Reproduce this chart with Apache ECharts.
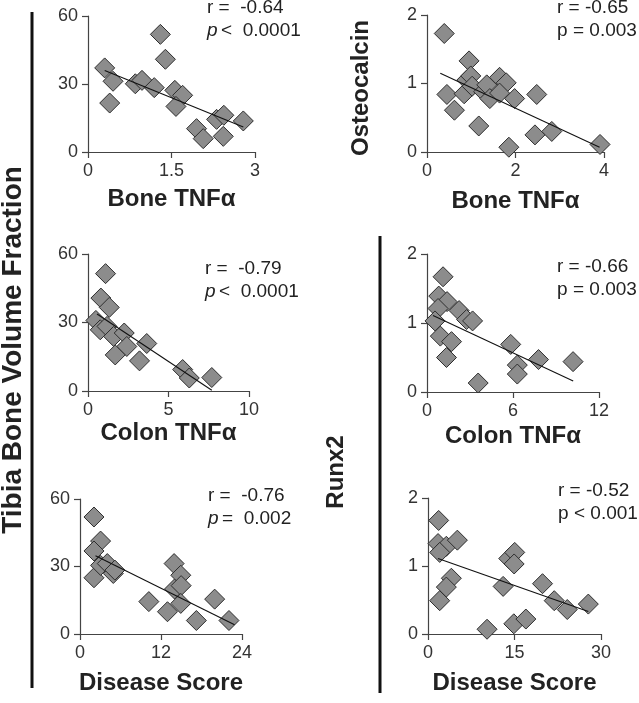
<!DOCTYPE html>
<html><head><meta charset="utf-8">
<script src="https://cdn.jsdelivr.net/npm/echarts@6/dist/echarts.min.js"></script>
<style>html,body{margin:0;padding:0;background:#fff}#c{width:639px;height:703px}</style>
</head><body><div id="c"></div>
<script>
// ---- Data ----
// Panel 1: Tibia BV/TV vs Bone TNFa
const p1X = [0.30,0.45,0.39,0.85,0.97,1.19,1.30,1.39,1.56,1.70,1.58,1.95,2.07,2.31,2.44,2.43,2.79];
const p1Y = [37.1,31.2,21.6,30.1,31.6,28.4,51.9,40.9,27.2,25.0,20.1,10.3,5.9,14.4,16.2,6.9,13.7];
const p1TrendX = [0.30,2.79];
const p1TrendY = [36.0,11.0];
// Panel 2: Osteocalcin vs Bone TNFa
const p2X = [0.39,0.45,0.62,0.95,0.90,0.99,0.84,1.02,1.17,1.28,1.35,1.42,1.64,1.79,1.64,1.98,1.85,2.48,2.44,2.82,3.91];
const p2Y = [1.73,0.84,0.61,1.33,1.05,1.11,0.85,0.96,0.38,0.88,0.98,0.78,1.09,1.01,0.86,0.78,0.07,0.84,0.25,0.30,0.11];
const p2TrendX = [0.30,3.90];
const p2TrendY = [1.15,0.07];
// Panel 3: Tibia BV/TV vs Colon TNFa
const p3X = [1.09,0.80,1.32,0.49,0.76,1.18,1.59,2.25,2.41,1.69,3.20,3.65,5.88,6.29,7.69];
const p3Y = [51.4,40.7,36.6,30.9,26.8,28.3,23.9,25.4,19.5,15.8,13.2,20.8,9.4,5.7,5.9];
const p3TrendX = [0.56,7.69];
const p3TrendY = [33.7,0.3];
// Panel 4: Runx2 vs Colon TNFa
const p4X = [1.12,0.82,1.40,0.77,0.56,2.24,2.76,3.18,0.93,1.71,1.36,3.57,5.84,6.30,6.30,7.78,10.19];
const p4Y = [1.67,1.39,1.31,1.21,1.03,1.18,1.05,1.03,0.81,0.73,0.50,0.13,0.69,0.39,0.26,0.47,0.44];
const p4TrendX = [0.42,10.2];
const p4TrendY = [1.11,0.16];
// Panel 5: Tibia BV/TV vs Disease Score
const p5X = [2.07,3.05,2.07,2.07,3.05,4.04,4.93,5.17,10.2,12.96,13.94,14.93,14.0,14.98,14.93,17.24,19.95,22.07];
const p5Y = [52.0,41.3,36.9,25.0,30.5,31.3,26.9,28.4,14.4,9.9,31.3,26.1,20.0,21.5,13.6,6.0,15.5,6.0];
const p5TrendX = [2.3,22.9];
const p5TrendY = [34.8,4.1];
// Panel 6: Runx2 vs Disease Score
const p6X = [1.85,1.74,3.18,2.03,5.09,4.05,3.18,2.03,10.24,14.0,15.04,14.94,13.03,14.88,16.97,19.86,21.89,24.15,27.8];
const p6Y = [1.67,1.33,1.29,1.20,1.38,0.82,0.69,0.49,0.07,1.11,1.20,1.03,0.70,0.15,0.22,0.74,0.49,0.36,0.44];
const p6TrendX = [1.74,27.8];
const p6TrendY = [1.11,0.33];

// Axis ranges and tick steps
const xMax = [3, 4, 10, 12, 24, 30];
const xStep = [1.5, 2, 5, 6, 12, 15];
const yMax = [60, 2, 60, 2, 60, 2];
const yStep = [30, 1, 30, 1, 30, 1];
const xTitles = ['Bone TNFα','Bone TNFα','Colon TNFα','Colon TNFα','Disease Score','Disease Score'];
const rTexts = ['r =  -0.64','r = -0.65','r =  -0.79','r = -0.66','r =  -0.76','r = -0.52'];
const pOps = ['<  0.0001','= 0.003','<  0.0001','= 0.003','=  0.002','< 0.001'];
const pItalic = [true,false,true,false,true,false];

const xs = [p1X,p2X,p3X,p4X,p5X,p6X];
const ys = [p1Y,p2Y,p3Y,p4Y,p5Y,p6Y];
const txs = [p1TrendX,p2TrendX,p3TrendX,p4TrendX,p5TrendX,p6TrendX];
const tys = [p1TrendY,p2TrendY,p3TrendY,p4TrendY,p5TrendY,p6TrendY];

// ---- Layout ----
const grids = [
  {left:88, top:16, width:167, height:136},
  {left:427, top:15, width:177, height:137},
  {left:88, top:254, width:161, height:137},
  {left:427, top:254, width:172, height:138},
  {left:80, top:499, width:162, height:135},
  {left:428, top:498, width:173, height:136}
];
const nameGaps = [35, 37, 30, 32, 37, 37];
const annot = [[207,9],[557,9],[205,270],[557,268],[208,497],[558,492]];
const FONT = 'Liberation Sans, Arial, sans-serif';
const axisColor = '#444';

const chart = echarts.init(document.getElementById('c'), null, {renderer:'canvas'});
const xAxis = [], yAxis = [], series = [], graphic = [];
for (let i = 0; i < 6; i++) {
  const common = {
    gridIndex: i, type:'value', min:0,
    axisLine:{show:true, lineStyle:{color:axisColor, width:1.2}},
    axisTick:{show:true, length:6, lineStyle:{color:axisColor, width:1.2}},
    splitLine:{show:false},
    axisLabel:{color:'#333', fontSize:18, fontFamily:FONT, margin:10},
    nameTextStyle:{color:'#222', fontSize:24, fontWeight:'bold', fontFamily:FONT}
  };
  xAxis.push(Object.assign({}, common, {max:xMax[i], interval:xStep[i],
    name: xTitles[i], nameLocation:'middle', nameGap:nameGaps[i]}));
  yAxis.push(Object.assign({}, common, {max:yMax[i], interval:yStep[i]}));
  series.push({
    type:'line', xAxisIndex:i, yAxisIndex:i,
    data: txs[i].map((v,k)=>[v, tys[i][k]]),
    showSymbol:false, symbol:'none', silent:true, z:3,
    lineStyle:{color:'#111', width:1.1}
  });
  series.push({
    type:'scatter', xAxisIndex:i, yAxisIndex:i,
    data: xs[i].map((v,k)=>[v, ys[i][k]]),
    symbol:'diamond', symbolSize:[20,20], z:2,
    itemStyle:{color:'#8c8c8c', borderColor:'#2e2e2e', borderWidth:1, opacity:1}
  });
  const [ax, ay] = annot[i];
  graphic.push({type:'text', left:ax, top:ay-11, z:10,
    style:{text:rTexts[i], fill:'#222', font:'19px '+FONT}});
  graphic.push({type:'text', left:ax, top:ay+12, z:10,
    style:{text:'p', fill:'#222', font:(pItalic[i]?'italic ':'')+'19px '+FONT}});
  graphic.push({type:'text', left:ax + (pItalic[i] ? 14 : 16), top:ay+12, z:10,
    style:{text:pOps[i], fill:'#222', font:'19px '+FONT}});
}
// Vertical separator lines
graphic.push({type:'line', shape:{x1:32, y1:12, x2:32, y2:688}, style:{stroke:'#111', lineWidth:3}});
graphic.push({type:'line', shape:{x1:380, y1:236, x2:380, y2:693}, style:{stroke:'#111', lineWidth:3}});
// Rotated y titles
graphic.push({type:'text', x:13, y:350, rotation:Math.PI/2, z:10,
  style:{text:'Tibia Bone Volume Fraction', fill:'#222', font:'bold 28px '+FONT, align:'center', verticalAlign:'middle'}});
graphic.push({type:'text', x:361, y:88, rotation:Math.PI/2, z:10,
  style:{text:'Osteocalcin', fill:'#222', font:'bold 24px '+FONT, align:'center', verticalAlign:'middle'}});
graphic.push({type:'text', x:336, y:472, rotation:Math.PI/2, z:10,
  style:{text:'Runx2', fill:'#222', font:'bold 24px '+FONT, align:'center', verticalAlign:'middle'}});

chart.setOption({
  animation:false,
  backgroundColor:'#fff',
  grid: grids,
  xAxis, yAxis, series, graphic
});
</script></body></html>
